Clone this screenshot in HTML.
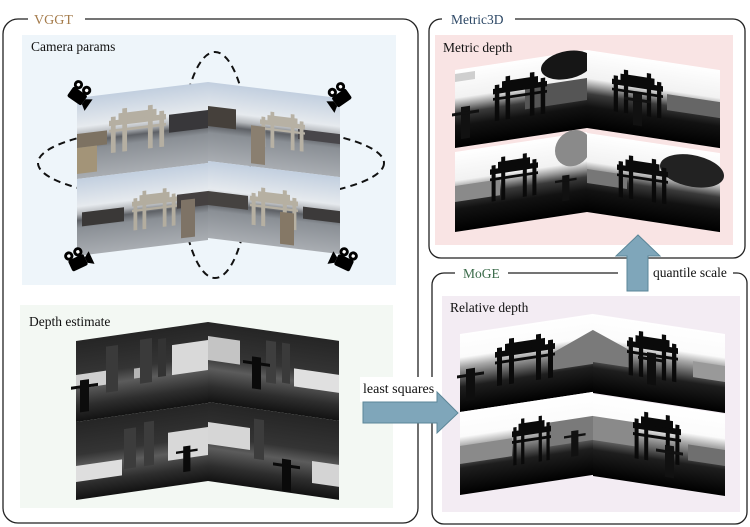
<!DOCTYPE html>
<html><head><meta charset="utf-8">
<style>html,body{margin:0;padding:0;background:#fff}svg{display:block}</style>
</head><body>
<svg width="750" height="527" viewBox="0 0 750 527" xmlns="http://www.w3.org/2000/svg" xmlns:xlink="http://www.w3.org/1999/xlink" font-family="'Liberation Serif', serif">
<defs>
  <linearGradient id="pg" x1="0" y1="0" x2="0" y2="1">
    <stop offset="0" stop-color="#c2cfdf"/>
    <stop offset="0.36" stop-color="#e6eaee"/>
    <stop offset="0.46" stop-color="#b5b8bc"/>
    <stop offset="0.54" stop-color="#5e6166"/>
    <stop offset="0.64" stop-color="#8a8f95"/>
    <stop offset="1" stop-color="#a9adb2"/>
  </linearGradient>
  <linearGradient id="vd" x1="0" y1="0" x2="0" y2="1">
    <stop offset="0" stop-color="#252525"/>
    <stop offset="0.42" stop-color="#343434"/>
    <stop offset="0.58" stop-color="#5c5c5c"/>
    <stop offset="0.8" stop-color="#2e2e2e"/>
    <stop offset="1" stop-color="#121212"/>
  </linearGradient>
  <linearGradient id="md" x1="0" y1="0" x2="0" y2="1">
    <stop offset="0" stop-color="#ffffff"/>
    <stop offset="0.36" stop-color="#f2f2f2"/>
    <stop offset="0.46" stop-color="#9a9a9a"/>
    <stop offset="0.56" stop-color="#3a3a3a"/>
    <stop offset="0.72" stop-color="#121212"/>
    <stop offset="1" stop-color="#000000"/>
  </linearGradient>
  <linearGradient id="rd" x1="0" y1="0" x2="0" y2="1">
    <stop offset="0" stop-color="#ffffff"/>
    <stop offset="0.3" stop-color="#fbfbfb"/>
    <stop offset="0.42" stop-color="#a8a8a8"/>
    <stop offset="0.56" stop-color="#5e5e5e"/>
    <stop offset="0.68" stop-color="#1e1e1e"/>
    <stop offset="1" stop-color="#000000"/>
  </linearGradient>
  <g id="gate">
    <rect x="0" y="12" width="60" height="6"/>
    <rect x="10" y="5" width="40" height="8"/>
    <rect x="2" y="8" width="5" height="40"/>
    <rect x="14" y="0" width="5" height="48"/>
    <rect x="41" y="0" width="5" height="48"/>
    <rect x="53" y="8" width="5" height="40"/>
    <rect x="0" y="22" width="60" height="3"/>
  </g>
  <g id="fig">
    <rect x="4" y="0" width="9" height="32"/>
    <rect x="-5" y="5" width="27" height="3"/>
  </g>
  <g id="cam">
    <rect x="-11" y="-3" width="17" height="12" rx="2"/>
    <circle cx="-8" cy="-7" r="4.6"/>
    <circle cx="2" cy="-7" r="4.6"/>
    <circle cx="-8" cy="-7" r="1.7" fill="#fff"/>
    <circle cx="2" cy="-7" r="1.7" fill="#fff"/>
    <polygon points="6,1 12,-3 12,11 6,7"/>
  </g>
</defs>

<!-- ===== VGGT ===== -->
<path d="M28,19 H18 A15,15 0 0 0 3,34 V508 A15,15 0 0 0 18,523 H403 A15,15 0 0 0 418,508 V34 A15,15 0 0 0 403,19 H85" fill="none" stroke="#222" stroke-width="1.3"/>
<text x="34" y="24" font-size="14" fill="#a57c4c">VGGT</text>

<rect x="22" y="35" width="374" height="250" fill="#eef5fa"/>
<text x="31" y="51" font-size="13.5" fill="#111">Camera params</text>

<!-- dashed orbits -->
<ellipse cx="215" cy="165" rx="35" ry="113" fill="none" stroke="#111" stroke-width="2" stroke-dasharray="7,5"/>
<ellipse cx="211" cy="163" rx="173" ry="39" fill="none" stroke="#111" stroke-width="2" stroke-dasharray="7,5"/>

<!-- photos -->
<g transform="translate(77,98) skewY(-6.96)">
  <rect width="131" height="81" fill="url(#pg)"/>
  <rect x="0" y="36" width="30" height="14" fill="#7d7262"/>
  <rect x="92" y="28" width="39" height="18" fill="#38373a"/>
  <use xlink:href="#gate" transform="translate(32,16) scale(0.95,0.9)" fill="#b5afa2"/>
  <rect x="0" y="50" width="20" height="26" fill="#a39478"/>
</g>
<g transform="translate(208,82) skewY(6.96)">
  <rect width="132" height="79" fill="url(#pg)"/>
  <rect x="0" y="24" width="28" height="20" fill="#45403b"/>
  <rect x="90" y="36" width="42" height="10" fill="#48464a"/>
  <use xlink:href="#gate" transform="translate(52,22) scale(0.75,0.75)" fill="#b7b1a4"/>
  <rect x="43" y="38" width="14" height="38" fill="#8a7f70"/>
</g>
<g transform="translate(77,179) skewY(-6.96)">
  <rect width="131" height="77" fill="url(#pg)"/>
  <rect x="5" y="34" width="42" height="14" fill="#3a3837"/>
  <rect x="100" y="28" width="31" height="14" fill="#444040"/>
  <use xlink:href="#gate" transform="translate(55,20) scale(0.75,0.8)" fill="#b3ad9f"/>
  <rect x="104" y="34" width="14" height="38" fill="#7e7366"/>
</g>
<g transform="translate(208,161) skewY(6.96)">
  <rect width="132" height="77" fill="url(#pg)"/>
  <rect x="0" y="30" width="40" height="14" fill="#454240"/>
  <rect x="95" y="34" width="37" height="12" fill="#3c3a3a"/>
  <use xlink:href="#gate" transform="translate(42,20) scale(0.8,0.8)" fill="#b6b0a2"/>
  <rect x="72" y="42" width="14" height="32" fill="#857866"/>
</g>

<!-- cameras -->
<use xlink:href="#cam" transform="translate(81,95) rotate(35)" fill="#000"/>
<use xlink:href="#cam" transform="translate(338,97) scale(-1,1) rotate(35)" fill="#000"/>
<use xlink:href="#cam" transform="translate(79,259) rotate(-25)" fill="#000"/>
<use xlink:href="#cam" transform="translate(343,259) scale(-1,1) rotate(-25)" fill="#000"/>

<!-- depth estimate -->
<rect x="20" y="305" width="373" height="203" fill="#f3f8f3"/>
<text x="29" y="326" font-size="13.5" fill="#111">Depth estimate</text>

<g transform="translate(76,341) skewY(-8.2)">
  <rect width="132" height="81" fill="url(#vd)"/>
  <rect x="0" y="34" width="36" height="14" fill="#cfcfcf"/>
  <rect x="58" y="36" width="18" height="10" fill="#b5b5b5"/>
  <rect x="96" y="18" width="36" height="30" fill="#d9d9d9"/>
  <rect x="30" y="10" width="12" height="46" fill="#3a3a3a"/>
  <rect x="64" y="8" width="12" height="44" fill="#3a3a3a"/>
  <rect x="82" y="10" width="8" height="38" fill="#333"/>
  <use xlink:href="#fig" transform="translate(0,40)" fill="#0c0c0c"/>
</g>
<g transform="translate(208,322) skewY(8.2)">
  <rect width="131" height="80" fill="url(#vd)"/>
  <rect x="0" y="14" width="32" height="24" fill="#c4c4c4"/>
  <rect x="86" y="34" width="45" height="18" fill="#e0e0e0"/>
  <rect x="58" y="10" width="10" height="42" fill="#3e3e3e"/>
  <rect x="74" y="10" width="8" height="40" fill="#3a3a3a"/>
  <use xlink:href="#fig" transform="translate(40,28)" fill="#0a0a0a"/>
</g>
<g transform="translate(76,422) skewY(-8.2)">
  <rect width="132" height="78" fill="url(#vd)"/>
  <rect x="0" y="44" width="46" height="16" fill="#dedede"/>
  <rect x="92" y="24" width="40" height="28" fill="#d8d8d8"/>
  <rect x="48" y="14" width="12" height="40" fill="#3c3c3c"/>
  <rect x="68" y="10" width="10" height="44" fill="#3c3c3c"/>
  <use xlink:href="#fig" transform="translate(104,40) scale(0.8)" fill="#0a0a0a"/>
</g>
<g transform="translate(208,402) skewY(8.2)">
  <rect width="131" height="79" fill="url(#vd)"/>
  <rect x="0" y="20" width="42" height="22" fill="#d6d6d6"/>
  <rect x="104" y="44" width="27" height="22" fill="#d4d4d4"/>
  <rect x="46" y="10" width="10" height="40" fill="#3c3c3c"/>
  <use xlink:href="#fig" transform="translate(70,46)" fill="#0a0a0a"/>
</g>

<!-- ===== Metric3D ===== -->
<path d="M442,19 H441 A12,12 0 0 0 429,31 V246 A12,12 0 0 0 441,258 H733 A12,12 0 0 0 745,246 V31 A12,12 0 0 0 733,19 H515" fill="none" stroke="#222" stroke-width="1.3"/>
<text x="451" y="24" font-size="13.5" fill="#2d4866">Metric3D</text>
<rect x="435" y="35" width="298" height="210" fill="#f9e4e4"/>
<text x="443" y="52" font-size="13.5" fill="#111">Metric depth</text>

<g transform="translate(455,70) skewY(-8.6)">
  <rect width="132" height="78" fill="url(#md)"/>
  <ellipse cx="112" cy="12" rx="26" ry="14" fill="#161616"/>
  <rect x="70" y="28" width="62" height="22" fill="#555"/>
  <use xlink:href="#gate" transform="translate(38,14) scale(0.9,0.9)" fill="#0a0a0a"/>
  <use xlink:href="#fig" transform="translate(2,38)" fill="#111"/>
  <rect x="0" y="4" width="20" height="8" fill="#cfcfcf"/>
</g>
<g transform="translate(587,50) skewY(8.6)">
  <rect width="133" height="78" fill="url(#md)"/>
  <rect x="80" y="32" width="53" height="16" fill="#666"/>
  <use xlink:href="#gate" transform="translate(25,14) scale(0.85,0.9)" fill="#0a0a0a"/>
  <use xlink:href="#fig" transform="translate(42,36)" fill="#111"/>
</g>
<g transform="translate(455,152) skewY(-8.6)">
  <rect width="132" height="80" fill="url(#md)"/>
  <ellipse cx="118" cy="14" rx="18" ry="18" fill="#8a8a8a"/>
  <rect x="0" y="34" width="45" height="16" fill="#8a8a8a"/>
  <use xlink:href="#gate" transform="translate(35,12) scale(0.8,0.9)" fill="#0a0a0a"/>
  <use xlink:href="#fig" transform="translate(104,40) scale(0.8)" fill="#111"/>
</g>
<g transform="translate(587,133) skewY(8.6)">
  <rect width="133" height="79" fill="url(#md)"/>
  <ellipse cx="105" cy="22" rx="32" ry="16" fill="#222"/>
  <rect x="0" y="36" width="40" height="14" fill="#777"/>
  <use xlink:href="#gate" transform="translate(30,16) scale(0.85,0.9)" fill="#0a0a0a"/>
</g>

<!-- ===== MoGE ===== -->
<path d="M455,273 H444 A12,12 0 0 0 432,285 V512 A12,12 0 0 0 444,524 H735 A12,12 0 0 0 747,512 V283 A10,10 0 0 0 737,273 H733" fill="none" stroke="#222" stroke-width="1.3"/>
<path d="M508,273 H618" fill="none" stroke="#222" stroke-width="1.3"/>
<text x="463" y="278" font-size="13.5" fill="#3b6b4a">MoGE</text>
<text x="653" y="277" font-size="13.5" fill="#111">quantile scale</text>
<rect x="442" y="296" width="298" height="216" fill="#f3ecf3"/>
<text x="450" y="312" font-size="13.5" fill="#111">Relative depth</text>

<g transform="translate(460,334) skewY(-8.6)">
  <rect width="133" height="78" fill="url(#rd)"/>
  <polygon points="90,34 133,16 133,50 90,50" fill="#7a7a7a"/>
  <use xlink:href="#gate" transform="translate(35,12) scale(1.0,0.95)" fill="#0a0a0a"/>
  <use xlink:href="#fig" transform="translate(2,36)" fill="#0e0e0e"/>
</g>
<g transform="translate(593,314) skewY(8.6)">
  <rect width="132" height="79" fill="url(#rd)"/>
  <polygon points="0,16 40,32 40,48 0,48" fill="#7a7a7a"/>
  <rect x="100" y="32" width="32" height="16" fill="#999"/>
  <use xlink:href="#gate" transform="translate(34,10) scale(0.85,0.95)" fill="#0a0a0a"/>
  <use xlink:href="#fig" transform="translate(50,30)" fill="#0e0e0e"/>
</g>
<g transform="translate(460,412) skewY(-8.6)">
  <rect width="133" height="83" fill="url(#rd)"/>
  <rect x="0" y="34" width="52" height="18" fill="#8a8a8a"/>
  <rect x="88" y="24" width="45" height="24" fill="#7a7a7a"/>
  <use xlink:href="#gate" transform="translate(52,16) scale(0.65,0.95)" fill="#0a0a0a"/>
  <use xlink:href="#fig" transform="translate(108,36) scale(0.8)" fill="#111"/>
</g>
<g transform="translate(593,394) skewY(8.6)">
  <rect width="132" height="82" fill="url(#rd)"/>
  <rect x="0" y="22" width="45" height="24" fill="#8a8a8a"/>
  <rect x="95" y="36" width="37" height="16" fill="#6f6f6f"/>
  <use xlink:href="#gate" transform="translate(40,10) scale(0.8,1.0)" fill="#0a0a0a"/>
  <use xlink:href="#fig" transform="translate(68,40)" fill="#111"/>
</g>

<!-- least squares arrow -->
<rect x="360" y="377" width="80" height="25" fill="#fff"/>
<text x="363" y="393" font-size="14" fill="#111">least squares</text>
<polygon points="363,402 437,402 437,392 458,413 437,433 437,423 363,423" fill="#7fa6ba" stroke="#5b8698" stroke-width="1"/>

<!-- quantile scale arrow -->
<polygon points="627,291 627,256 616,256 638,235 660,256 648,256 648,291" fill="#7fa6ba" stroke="#5b8698" stroke-width="1"/>
</svg>
</body></html>
